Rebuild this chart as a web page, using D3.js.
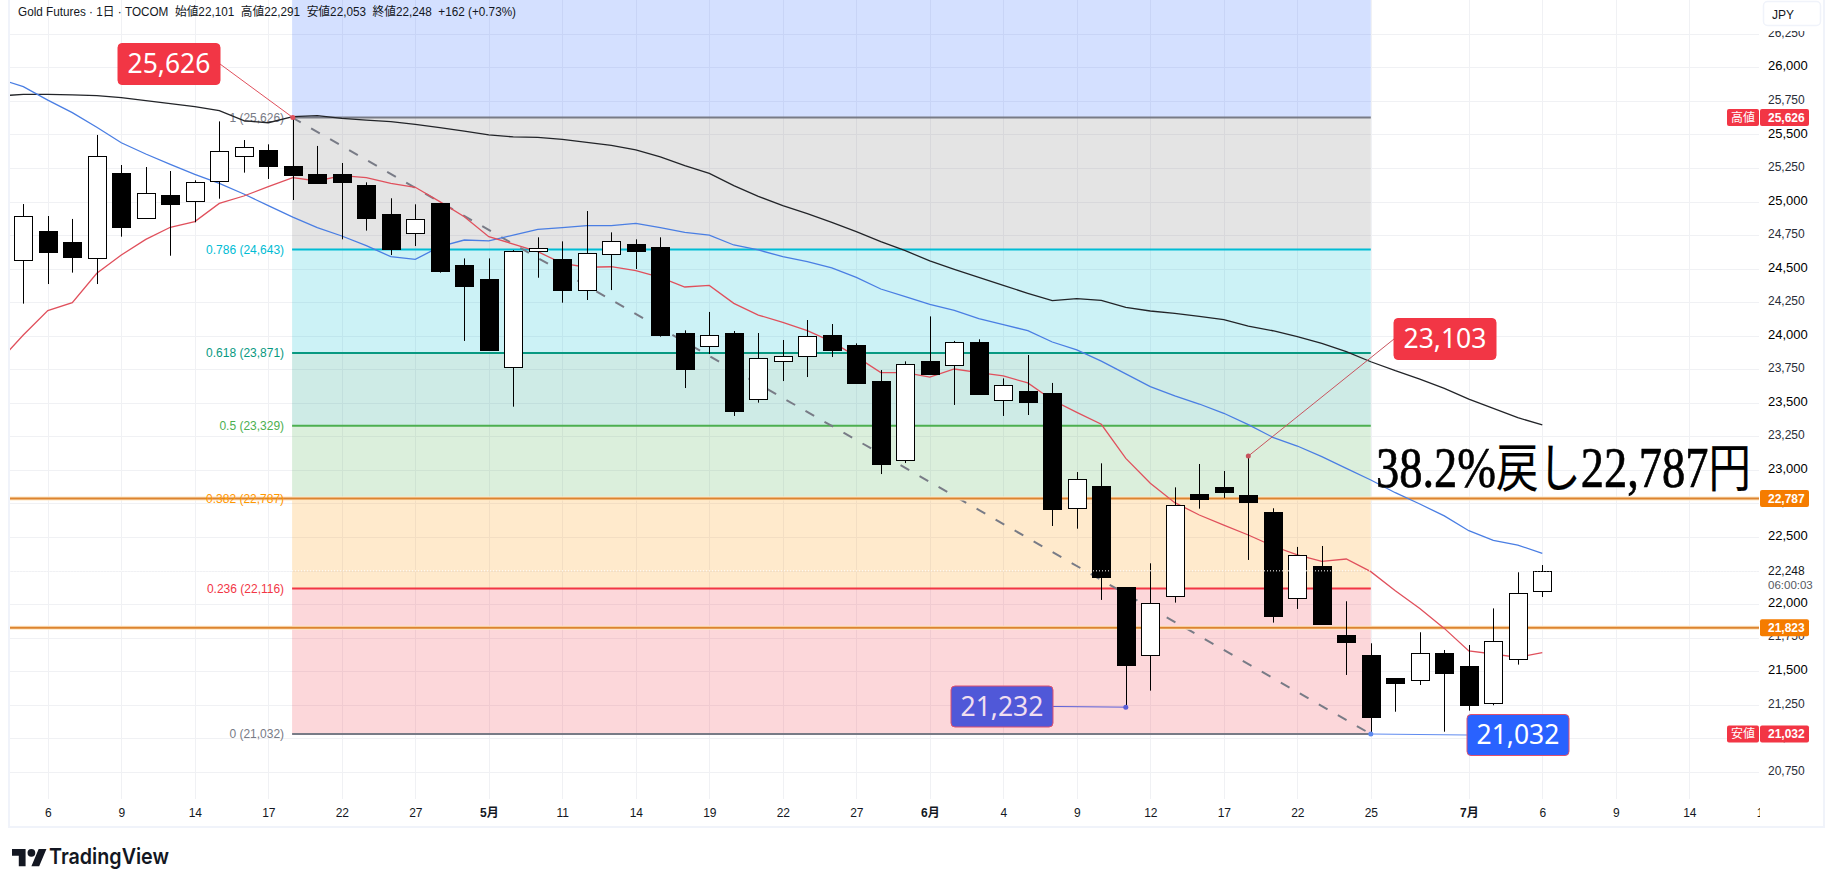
<!DOCTYPE html>
<html lang="ja">
<head>
<meta charset="utf-8">
<title>Gold Futures</title>
<script src="https://cdn.jsdelivr.net/npm/d3@7/dist/d3.min.js"></script>
<style>
  html, body { margin: 0; padding: 0; background: #fff; overflow: hidden; }
  svg { display: block; }
  text { font-family: "Liberation Sans", "Noto Sans CJK JP", sans-serif; }
</style>
</head>
<body>
<svg id="chart" width="1827" height="887"></svg>
<script>
// Daily candles, oldest first
const opens = [24559,24780,24696,24576,25210,24875,25046,25001,25150,25337,25381,25265,25202,25205,25120,24904,24763,24989,24524,24420,23764,24629,24569,24338,24614,
  24683,24661,24020,23918,24020,23523,23806,23844,24005,23931,23663,23069,23809,23777,23953,23521,23588,23573,22711,22880,22127,21616,22058,22820,22873,22811,22686,22041,22284,21767,21618,21447,21432,21633,21536,21261,21596,22101];
const highs = [24981,24892,24870,25496,25272,25257,25227,25158,25597,25458,25426,25626,25414,25287,25143,25024,24979,24989,24576,24576,24638,24733,24703,24929,24770,
  24718,24733,24040,24177,24035,24020,23968,24117,24087,23943,23744,23809,24144,23961,23973,23682,23856,23648,22984,23049,22127,22304,22870,23044,22992,23103,22714,22426,22433,22021,21708,21447,21790,21658,21695,21968,22237,22291];
const lows = [24239,24385,24470,24385,24738,24875,24596,24845,25021,25215,25168,25011,25133,24718,24783,24601,24668,24470,23961,23888,23471,24432,24246,24266,24340,
  24497,23993,23610,23864,23402,23501,23662,23692,23841,23640,22969,23051,23715,23484,23568,23402,23409,22582,22562,22031,21232,21355,22011,22711,22791,22329,21862,21964,21854,21472,21032,21198,21397,21049,21206,21246,21549,22053];
const closes = [24889,24626,24581,25337,24805,25061,24976,25143,25374,25404,25260,25200,25133,25148,24877,24641,24867,24485,24365,23888,24629,24651,24341,24614,24708,
  24634,24005,23752,24003,23441,23831,23846,23995,23893,23648,23044,23787,23715,23951,23568,23630,23508,22711,22930,22204,21549,22006,22736,22783,22835,22756,21914,22364,21854,21713,21154,21407,21633,21482,21243,21723,22085,22248];

// Moving averages, with one leading value ahead of the first candle
const maShort = [23807,24005,24187,24246,24465,24601,24718,24808,24850,24986,25041,25111,25178,25153,25193,25178,25135,25106,24999,24887,24738,24683,24626,24539,24510,24514,
  24485,24435,24363,24375,24241,24154,24100,24038,23956,23844,23725,23725,23692,23752,23725,23700,23648,23521,23429,23340,23086,22900,22756,22664,22589,22515,22433,22366,22319,22336,22242,22100,21968,21819,21651,21628,21603,21638];
const maMid = [25915,25856,25756,25662,25553,25438,25354,25277,25202,25135,25056,24969,24884,24805,24743,24671,24589,24569,24663,24713,24706,24750,24793,24805,24820,24820,
  24837,24805,24770,24750,24676,24639,24589,24552,24505,24435,24348,24291,24234,24189,24127,24082,24038,23953,23894,23811,23715,23620,23551,23491,23422,23337,23243,23178,23099,23012,22925,22830,22746,22657,22547,22475,22440,22378];
const maLong = [25786,25799,25799,25794,25789,25774,25751,25729,25707,25677,25602,25587,25632,25640,25620,25607,25595,25575,25550,25525,25496,25481,25478,25463,25441,25419,
  25384,25332,25267,25210,25118,25039,24969,24909,24845,24775,24701,24634,24557,24495,24435,24375,24316,24261,24276,24264,24211,24184,24167,24144,24120,24072,24037,23993,23943,23881,23806,23739,23677,23608,23528,23459,23389,23335];

// Fibonacci retracement levels, highest first
const fibRatios = ["1", "0.786", "0.618", "0.5", "0.382", "0.236", "0"];
const fibPrices = [25626, 24643, 23871, 23329, 22787, 22116, 21032];
const fibColors = ["#787b86", "#00bcd4", "#089981", "#4caf50", "#ff9800", "#f23645", "#787b86"];
const fibFills = ["#7a7a7a", "#00bcd4", "#089981", "#4caf50", "#ff9800", "#f23645"];
const fibAboveColor = "#2962ff";

// Time axis: position in candle count and the label printed there
const timeTickIndex = [1,4,7,10,13,16,19,22,25,28,31,34,37,40,43,46,49,52,55,59,62,65,68,71];
const timeTickLabel = ["6","9","14","17","22","27","5月","11","14","19","22","27","6月","4","9","12","17","22","25","7月","6","9","14","19"];

const priceTicks = d3.range(20750, 26251, 250);
const supportLines = [22787, 21823];
const lastClose = 22248;
const headerText = "Gold Futures · 1日 · TOCOM  始値22,101  高値22,291  安値22,053  終値22,248  +162 (+0.73%)";

const paneLeft = 10, paneRight = 1759, paneBottom = 799;
const x = d3.scaleLinear().domain([0, 62]).range([23.3, 1542.3]);
const y = d3.scaleLinear().domain([21032, 25626]).range([734, 117.5]);
const fibLeft = x(11) - 0.7, fibRight = x(55);
const n = closes.length;

const svg = d3.select("#chart");
const defs = svg.append("defs");
defs.append("clipPath").attr("id", "pane").append("rect")
  .attr("x", paneLeft).attr("y", 0).attr("width", paneRight - paneLeft).attr("height", paneBottom);
defs.append("clipPath").attr("id", "timeClip").append("rect")
  .attr("x", paneLeft).attr("y", paneBottom).attr("width", paneRight - paneLeft + 1).attr("height", 26);
defs.append("clipPath").attr("id", "axisClip").append("rect")
  .attr("x", paneRight).attr("y", 31).attr("width", 64).attr("height", 795);

const crisp = v => Math.round(v) + 0.5;

// Grid
const grid = svg.append("g").attr("clip-path", "url(#pane)")
  .attr("stroke", "#f0f1f4").attr("stroke-width", 1);
grid.selectAll("line.h").data(priceTicks).join("line").attr("class", "h")
  .attr("x1", paneLeft).attr("x2", paneRight)
  .attr("y1", d => crisp(y(d))).attr("y2", d => crisp(y(d)));
grid.selectAll("line.v").data(timeTickIndex.filter(i => x(i) < paneRight)).join("line").attr("class", "v")
  .attr("x1", d => crisp(x(d))).attr("x2", d => crisp(x(d)))
  .attr("y1", 0).attr("y2", paneBottom);

// Fibonacci bands and level lines
const bands = svg.append("g").attr("clip-path", "url(#pane)");
bands.append("rect").attr("x", fibLeft).attr("y", 0).attr("width", fibRight - fibLeft)
  .attr("height", y(fibPrices[0])).attr("fill", fibAboveColor).attr("fill-opacity", 0.2);
fibPrices.slice(0, -1).forEach((p, k) => {
  bands.append("rect").attr("x", fibLeft).attr("y", y(p))
    .attr("width", fibRight - fibLeft).attr("height", y(fibPrices[k + 1]) - y(p))
    .attr("fill", fibFills[k]).attr("fill-opacity", 0.2);
});
bands.selectAll("line").data(fibPrices).join("line")
  .attr("x1", fibLeft).attr("x2", fibRight)
  .attr("y1", d => y(d)).attr("y2", d => y(d))
  .attr("stroke", (d, k) => fibColors[k]).attr("stroke-width", 2);

// Retracement diagonal
svg.append("line")
  .attr("x1", fibLeft).attr("y1", y(fibPrices[0]))
  .attr("x2", fibRight).attr("y2", y(fibPrices[6]))
  .attr("stroke", "#787b86").attr("stroke-width", 2).attr("stroke-dasharray", "10 11.9");

// Horizontal price levels drawn across the whole pane
supportLines.forEach(p => {
  svg.append("line").attr("x1", paneLeft).attr("x2", paneRight).attr("y1", y(p)).attr("y2", y(p))
    .attr("stroke", "#ffe7c4").attr("stroke-width", 4);
  svg.append("line").attr("x1", paneLeft).attr("x2", paneRight).attr("y1", y(p)).attr("y2", y(p))
    .attr("stroke", "#dc8430").attr("stroke-width", 2);
});

// Fibonacci level labels
svg.append("g").selectAll("text").data(fibPrices).join("text")
  .attr("x", fibLeft - 8).attr("y", d => y(d))
  .attr("dy", "0.35em").attr("text-anchor", "end").attr("font-size", 12)
  .attr("fill", (d, k) => fibColors[k])
  .text((d, k) => `${fibRatios[k]} (${d3.format(",")(d)})`);

// Moving averages
const maLine = d3.line().x((d, i) => x(i - 1)).y(d => y(d));
const maGroup = svg.append("g").attr("clip-path", "url(#pane)").attr("fill", "none").attr("stroke-width", 1.3);
maGroup.append("path").attr("d", maLine(maLong)).attr("stroke", "#222428");
maGroup.append("path").attr("d", maLine(maMid)).attr("stroke", "#4a7ee3");
maGroup.append("path").attr("d", maLine(maShort)).attr("stroke", "#e0505c");

// Candles
const candles = svg.append("g").selectAll("g").data(d3.range(n)).join("g");
candles.append("line")
  .attr("x1", i => crisp(x(i))).attr("x2", i => crisp(x(i)))
  .attr("y1", i => y(highs[i])).attr("y2", i => y(lows[i]))
  .attr("stroke", "#000").attr("stroke-width", 1);
candles.append("rect")
  .attr("x", i => crisp(x(i)) - 9)
  .attr("width", 18)
  .attr("y", i => crisp(y(Math.max(opens[i], closes[i]))))
  .attr("height", i => Math.max(1, Math.round(Math.abs(y(opens[i]) - y(closes[i])))))
  .attr("fill", i => closes[i] >= opens[i] ? "#fff" : "#000")
  .attr("stroke", "#000").attr("stroke-width", 1);

// Last-price marker line
svg.append("line").attr("x1", paneLeft).attr("x2", paneRight)
  .attr("y1", y(lastClose)).attr("y2", y(lastClose))
  .attr("stroke", "#fff").attr("stroke-width", 1).attr("stroke-dasharray", "1 2");

// Value callouts with a leader to the candle they refer to
function callout(value, index, boxX, boxY, fill, edge, ink, lineColor) {
  const w = 102, h = 41, px = x(index), py = y(value);
  const nearEdge = boxX > px ? boxX : boxX + w;
  const nearY = boxY + h / 2;
  svg.append("line").attr("x1", px).attr("y1", py).attr("x2", nearEdge).attr("y2", nearY)
    .attr("stroke", lineColor).attr("stroke-width", 1);
  svg.append("circle").attr("cx", px).attr("cy", py).attr("r", 2.5).attr("fill", lineColor);
  svg.append("rect").attr("x", boxX).attr("y", boxY).attr("width", w).attr("height", h).attr("rx", 4)
    .attr("fill", fill).attr("stroke", edge).attr("stroke-width", 1);
  svg.append("text").attr("x", boxX + w / 2).attr("y", boxY + h / 2).attr("dy", "0.35em")
    .attr("text-anchor", "middle").attr("fill", ink)
    .style("font-family", '"Noto Sans", sans-serif').style("font-size", "26.5px")
    .text(d3.format(",")(value));
}
callout(25626, 11, 118, 43.5, "#f23645", "#f23645", "#fff", "#e0505c");
callout(23103, 50, 1394, 318.5, "#f23645", "#f23645", "#fff", "#c8545e");
callout(21232, 45, 951, 686, "#5058d8", "#e0506e", "#f0dff0", "#5a5fd8");
callout(21032, 55, 1467, 714.5, "#2962ff", "#e0506e", "#fff", "#5f8bf0");

// Retracement note beside the last candles; kana and kanji are set a little smaller than the figures
const note = svg.append("text").attr("transform", "translate(1376,486.5) scale(0.815,1)")
  .attr("fill", "#000").attr("stroke", "#000").attr("stroke-width", 0.7)
  .style("font-family", '"Liberation Serif", "Noto Sans CJK JP", serif').style("font-size", "57px");
note.append("tspan").text("38.2%");
note.append("tspan").style("font-size", "52px").attr("stroke-width", 0.2).text("戻し");
note.append("tspan").text("22,787");
note.append("tspan").style("font-size", "52px").attr("stroke-width", 0.2).text("円");

// Header line
svg.append("text").attr("x", 18).attr("y", 11.5).attr("dy", "0.35em")
  .attr("font-size", 12).attr("fill", "#131722")
  .attr("textLength", 498).attr("lengthAdjust", "spacingAndGlyphs")
  .style("white-space", "pre")
  .text(headerText);

// Frame
svg.append("rect").attr("x", 9).attr("y", -2).attr("width", 1815).attr("height", 829)
  .attr("fill", "none").attr("stroke", "#f0f3fa").attr("stroke-width", 2);

// Price axis: tick text sits slightly above its grid line
const priceAxis = svg.append("g").attr("clip-path", "url(#axisClip)").append("g")
  .attr("transform", `translate(${paneRight},-1.5)`)
  .call(d3.axisRight(y).tickValues(priceTicks).tickSize(0).tickPadding(9).tickFormat(d3.format(",")));
priceAxis.select(".domain").remove();
priceAxis.selectAll("text")
  .style("font-family", '"Liberation Sans", sans-serif')
  .style("font-size", d => d % 500 === 0 ? "13px" : "12px")
  .attr("fill", d => d % 500 === 0 ? "#000" : "#2a2e39");

// Currency box
svg.append("rect").attr("x", 1763.5).attr("y", 1.5).attr("width", 57).attr("height", 24).attr("rx", 4)
  .attr("fill", "#fff").attr("stroke", "#f0f3fa").attr("stroke-width", 1.5);
svg.append("text").attr("x", 1772).attr("y", 15).attr("dy", "0.35em")
  .attr("font-size", 12).attr("fill", "#131722").text("JPY");

// Time axis
const timeAxis = svg.append("g").attr("clip-path", "url(#timeClip)").append("g")
  .attr("transform", `translate(0,${paneBottom})`)
  .call(d3.axisBottom(x).tickValues(timeTickIndex).tickSize(0).tickPadding(9)
    .tickFormat(d => timeTickLabel[timeTickIndex.indexOf(d)]));
timeAxis.select(".domain").remove();
timeAxis.selectAll("text")
  .style("font-family", '"Liberation Sans", "Noto Sans CJK JP", sans-serif')
  .style("font-size", "12px")
  .style("font-weight", d => timeTickLabel[timeTickIndex.indexOf(d)].endsWith("月") ? "700" : "400")
  .attr("fill", "#131722");

// Tags on the price axis
function tag(value, fill, caption) {
  const cy = y(value);
  if (caption) {
    svg.append("rect").attr("x", 1727).attr("y", cy - 8.5).attr("width", 32).attr("height", 17).attr("rx", 2).attr("fill", fill);
    svg.append("text").attr("x", 1743).attr("y", cy).attr("dy", "0.36em").attr("text-anchor", "middle")
      .attr("font-size", 12).attr("fill", "#fff").text(caption);
  }
  svg.append("rect").attr("x", 1760).attr("y", cy - 8.5).attr("width", 49).attr("height", 17).attr("rx", 2).attr("fill", fill);
  svg.append("text").attr("x", 1768).attr("y", cy).attr("dy", "0.35em")
    .attr("font-size", 12).attr("font-weight", 700).attr("fill", "#fff").text(d3.format(",")(value));
}
tag(25626, "#f23645", "高値");
tag(21032, "#f23645", "安値");
tag(supportLines[0], "#f57c00");
tag(supportLines[1], "#f57c00");

// Last price and countdown
svg.append("rect").attr("x", 1760).attr("y", y(lastClose) - 8).attr("width", 63).attr("height", 23).attr("fill", "#fff");
svg.append("text").attr("x", 1768).attr("y", y(lastClose)).attr("dy", "0.35em")
  .attr("font-size", 12).attr("fill", "#131722").text(d3.format(",")(lastClose));
svg.append("text").attr("x", 1768).attr("y", y(lastClose) + 14).attr("dy", "0.35em")
  .attr("font-size", 11.5).attr("fill", "#555962").text("06:00:03");

// Brand mark
const logo = svg.append("g").attr("transform", "translate(12,845) scale(0.97)").attr("fill", "#131722");
logo.append("path").attr("d", "M14 22H7V11H0V4h14v18zM28 22h-8l7.5-18h8L28 22z");
logo.append("circle").attr("cx", 20).attr("cy", 8).attr("r", 4);
svg.append("text").attr("x", 49).attr("y", 864)
  .attr("fill", "#131722").attr("textLength", 120).attr("lengthAdjust", "spacingAndGlyphs")
  .style("font-family", 'Inter, "Liberation Sans", sans-serif').style("font-size", "22px").style("font-weight", "600")
  .text("TradingView");
</script>
</body>
</html>
